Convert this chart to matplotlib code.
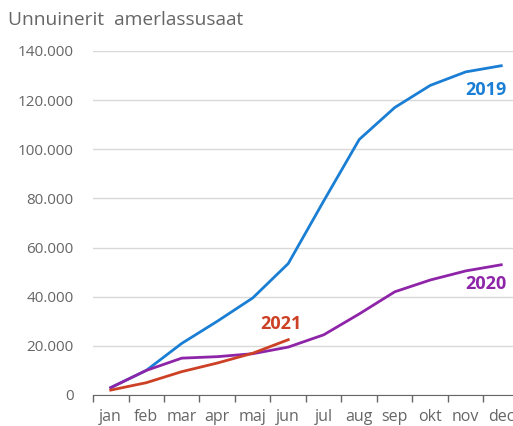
import matplotlib
matplotlib.use("Agg")
import matplotlib.pyplot as plt
from matplotlib.ticker import FuncFormatter
import numpy as np

maaneder = ["jan", "feb", "mar", "apr", "maj", "jun", "jul", "aug", "sep", "okt", "nov", "dec"]
v2019 = [3000, 10000, 21000, 30000, 39500, 53500, 79000, 104000, 117000, 126000, 131500, 134000]
v2020 = [3000, 10000, 15000, 15600, 16800, 19500, 24500, 33000, 42000, 46800, 50500, 53000]
v2021 = [2000, 5000, 9500, 13000, 17000, 22500]

BLAA, LILLA, ROED = "#1a7fd4", "#8e24a8", "#cc4125"
GRAA = "#666666"

plt.rcParams["font.family"] = ["Open Sans", "DejaVu Sans"]

fig = plt.figure(figsize=(5.13, 4.26), dpi=100)
ax = fig.add_axes([93 / 513, 31 / 426, 426 / 513, 344 / 426])

x = np.arange(len(maaneder))
ax.plot(x, v2019, color=BLAA, lw=2, zorder=3)
ax.plot(x, v2020, color=LILLA, lw=2, zorder=3)
ax.plot(x[:len(v2021)], v2021, color=ROED, lw=2, zorder=4)

ax.text(11.15, 124000, "2019", color=BLAA, fontsize=13, fontweight="bold", ha="right", va="center")
ax.text(11.15, 45000, "2020", color=LILLA, fontsize=13, fontweight="bold", ha="right", va="center")
ax.text(4.8, 29000, "2021", color=ROED, fontsize=13, fontweight="bold", ha="center", va="center")

ax.set_xlim(-0.5, 11.5)
ax.set_ylim(0, 140000)
ax.set_yticks(range(0, 140001, 20000))
ax.yaxis.set_major_formatter(FuncFormatter(lambda v, p: f"{int(v):,}".replace(",", ".")))
ax.set_xticks(x)
ax.set_xticklabels(maaneder)
ax.set_xticks(np.arange(-0.5, 12, 1), minor=True)
ax.tick_params(axis="x", which="major", length=0, pad=10, labelsize=11.5, labelcolor=GRAA)
ax.tick_params(axis="x", which="minor", length=5, color=GRAA, width=1)
ax.tick_params(axis="y", length=0, pad=14, labelsize=11, labelcolor=GRAA)

ax.grid(axis="y", color="#d9d9d9", lw=1)
ax.set_axisbelow(True)
for s in ("top", "right", "left"):
    ax.spines[s].set_visible(False)
ax.spines["bottom"].set_color(GRAA)
ax.spines["bottom"].set_zorder(5)

fig.text(8 / 513, 1 - 20 / 426, "Unnuinerit  amerlassusaat", fontsize=13.8, color=GRAA,
         ha="left", va="center")

fig.savefig("out.png", dpi=100, facecolor="white")
